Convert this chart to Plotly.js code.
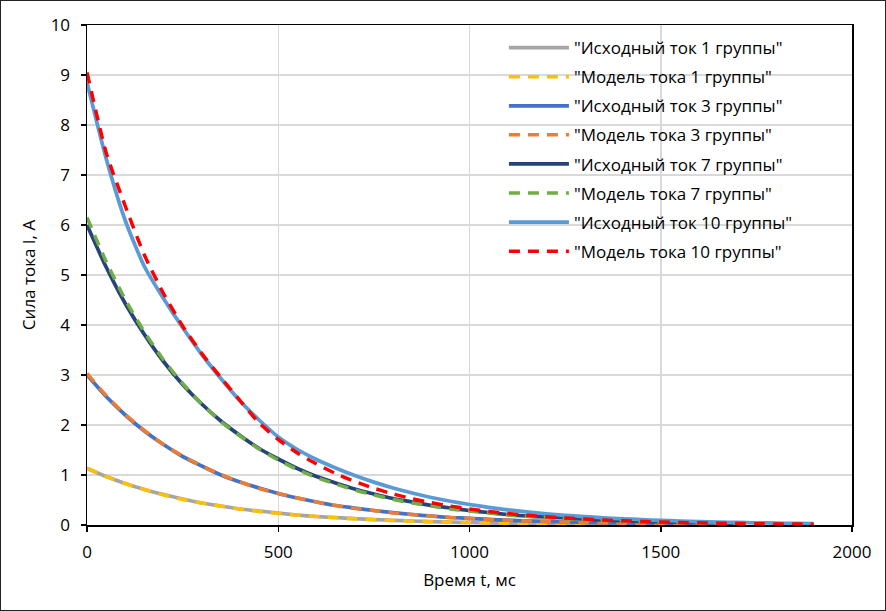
<!DOCTYPE html>
<html>
<head>
<meta charset="utf-8">
<script src="https://cdn.plot.ly/plotly-3.0.1.min.js"></script>
<style>
  html, body { margin: 0; padding: 0; background: #fff; }
  #chart { width: 884px; height: 609px; border: 1px solid #222; }
</style>
</head>
<body>
<div id="chart"></div>
<script>
// Time axis (ms)
var tAll = [0,50,100,150,200,250,300,350,400,450,500,550,600,650,700,750,800,850,900,950,1000,1050,1100,1150,1200,1250,1300,1350,1400,1450,1500,1550,1600,1650,1700,1750,1800,1850,1900];

// Group 1
var orig1  = [1.13,0.97,0.83,0.71,0.61,0.52,0.44,0.38,0.32,0.28,0.24,0.20,0.17,0.15,0.127,0.109,0.093,0.080,0.068,0.058,0.050,0.042,0.036,0.031,0.027,0.023,0.019,0.017,0.014];
var model1 = [1.14,0.97,0.83,0.71,0.60,0.51,0.44,0.38,0.32,0.27,0.23,0.20,0.17,0.145,0.123,0.105,0.090,0.077,0.065,0.056,0.048,0.041,0.035,0.030,0.025,0.022,0.018,0.016,0.013];
// Group 3
var orig3  = [3.00,2.57,2.20,1.88,1.61,1.37,1.18,1.00,0.86,0.74,0.63,0.54,0.46,0.39,0.34,0.29,0.25,0.21,0.18,0.15,0.132,0.113,0.096,0.083,0.071,0.060,0.052,0.044,0.038,0.032,0.028,0.024,0.020];
var model3 = [3.03,2.59,2.21,1.89,1.61,1.38,1.18,1.01,0.86,0.73,0.63,0.54,0.46,0.39,0.33,0.29,0.24,0.21,0.18,0.15,0.13,0.11,0.095,0.081,0.069,0.059,0.050,0.043,0.037,0.031,0.027,0.023,0.020];
// Group 7
var orig7  = [6.00,5.16,4.43,3.81,3.27,2.81,2.42,2.08,1.79,1.53,1.32,1.13,0.97,0.84,0.72,0.62,0.53,0.46,0.39,0.34,0.29,0.25,0.21,0.18,0.16,0.14,0.12,0.10,0.086,0.074,0.063,0.055,0.047,0.040,0.035];
var model7 = [6.15,5.27,4.51,3.86,3.30,2.83,2.42,2.07,1.78,1.52,1.30,1.11,0.95,0.82,0.70,0.60,0.51,0.44,0.38,0.32,0.28,0.24,0.20,0.17,0.15,0.13,0.11,0.093,0.080,0.068,0.058,0.050,0.043,0.037,0.031];
// Group 10
var orig10  = [8.85,7.33,6.09,5.17,4.53,3.95,3.41,2.93,2.48,2.10,1.76,1.51,1.31,1.14,0.99,0.857,0.74,0.64,0.55,0.475,0.41,0.353,0.304,0.262,0.225,0.194,0.167,0.144,0.124,0.107,0.092,0.079,0.068,0.059,0.051,0.044,0.038,0.032,0.028];
var model10 = [9.05,7.45,6.38,5.40,4.63,3.98,3.43,2.95,2.49,2.04,1.71,1.44,1.22,1.03,0.87,0.735,0.62,0.527,0.446,0.378,0.32,0.271,0.229,0.194,0.164,0.139,0.118,0.100,0.0845,0.0715,0.0605,0.051,0.043,0.037,0.031,0.026,0.022,0.019,0.016];

var names = ['"Исходный ток 1 группы"','"Модель тока 1 группы"','"Исходный ток 3 группы"','"Модель тока 3 группы"','"Исходный ток 7 группы"','"Модель тока 7 группы"','"Исходный ток 10 группы"','"Модель тока 10 группы"'];
var series = [orig1, model1, orig3, model3, orig7, model7, orig10, model10];
var colors = ['#a5a5a5','#ffc000','#4472c4','#ed7d31','#264478','#70ad47','#5b9bd5','#ff0000'];

var FONT = '"Open Sans", Roboto, sans-serif';
var traces = series.map(function(y, i) {
  var isModel = (i % 2 === 1);
  return {
    x: tAll.slice(0, y.length),
    y: y,
    type: 'scatter',
    mode: 'lines',
    name: names[i],
    legendgroup: 'g' + i,
    line: { color: colors[i], width: isModel ? 3.5 : 3.75, dash: isModel ? '11px,8px' : 'solid', shape: 'spline', smoothing: 0.6 }
  };
});

var layout = {
  width: 884,
  height: 609,
  margin: { l: 86, r: 33, t: 24, b: 85 },
  paper_bgcolor: '#ffffff',
  plot_bgcolor: '#ffffff',
  font: { family: FONT, size: 17, color: '#000' },
  showlegend: true,
  legend: {
    x: 0.545, y: 0.99, xanchor: 'left', yanchor: 'top',
    bgcolor: 'rgba(0,0,0,0)',
    font: { family: FONT, size: 17, color: '#000' },
    traceorder: 'grouped',
    tracegroupgap: 4,
    itemwidth: 60
  },
  xaxis: {
    range: [0, 2000],
    tickvals: [0, 500, 1000, 1500, 2000],
    ticktext: ['0', '500', '1000', '1500', '2000'],
    showgrid: true, gridcolor: '#d9d9d9', gridwidth: 1.5,
    zeroline: false,
    showline: true, linecolor: '#000', linewidth: 1.5, mirror: true,
    ticks: 'outside', ticklen: 5, tickcolor: '#000', tickwidth: 1.5,
    ticklabelstandoff: 6,
    tickfont: { family: FONT, size: 17, color: '#000' },
    title: { text: 'Время t, мс', font: { family: FONT, size: 17, color: '#000' }, standoff: 12 }
  },
  yaxis: {
    range: [0, 10],
    tickvals: [0,1,2,3,4,5,6,7,8,9,10],
    ticktext: ['0','1','2','3','4','5','6','7','8','9','10'],
    showgrid: true, gridcolor: '#d9d9d9', gridwidth: 1.5,
    zeroline: false,
    showline: true, linecolor: '#000', linewidth: 1.5, mirror: true,
    ticks: 'outside', ticklen: 5, tickcolor: '#000', tickwidth: 1.5,
    ticklabelstandoff: 7,
    tickfont: { family: FONT, size: 17, color: '#000' },
    title: { text: 'Сила тока I, А', font: { family: FONT, size: 17, color: '#000' }, standoff: 10 }
  }
};

Plotly.newPlot('chart', traces, layout, { displayModeBar: false, staticPlot: true });
</script>
</body>
</html>
